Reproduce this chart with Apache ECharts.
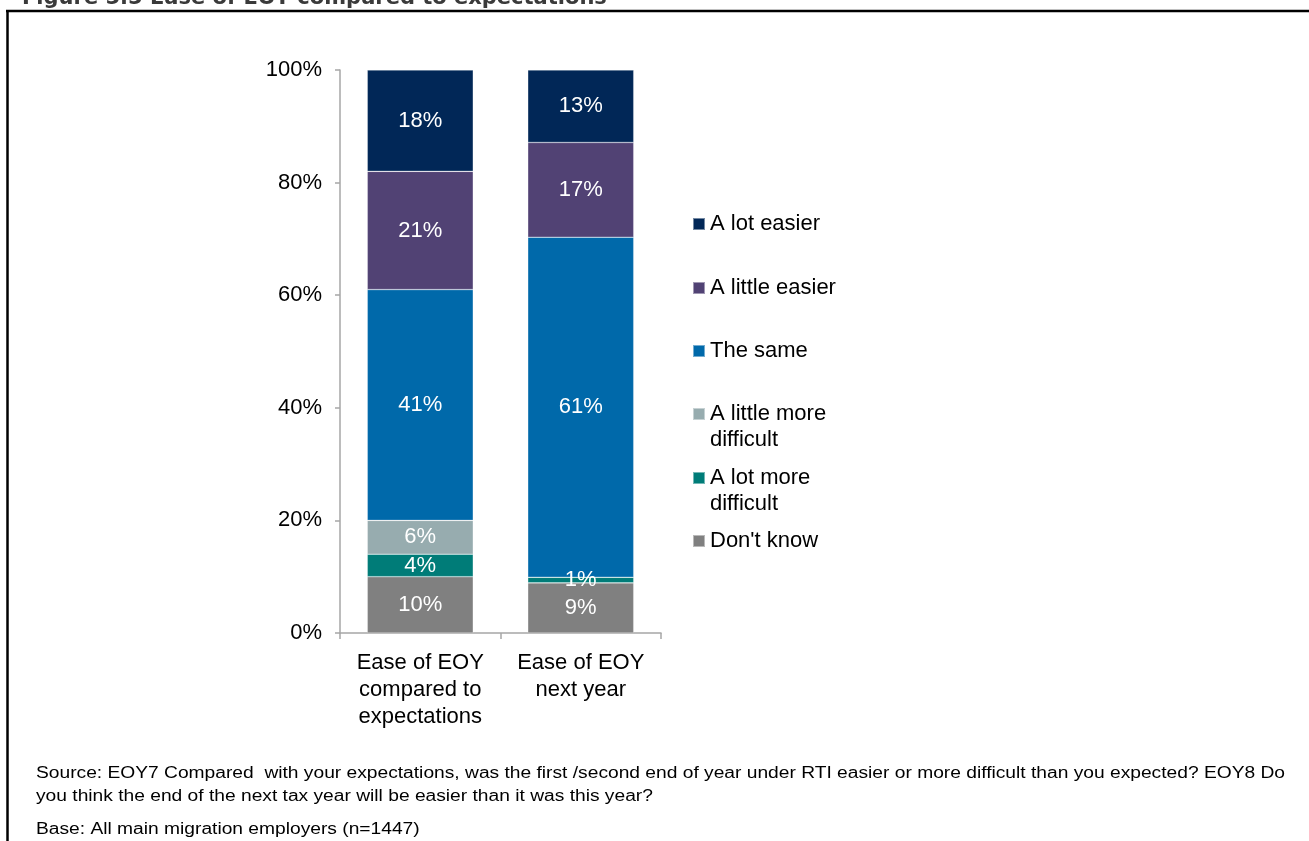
<!DOCTYPE html>
<html>
<head>
<meta charset="utf-8">
<title>Ease of EOY compared to expectations</title>
<script src="https://cdn.jsdelivr.net/npm/echarts@6/dist/echarts.min.js"></script>
<style>
  html, body { margin: 0; padding: 0; background: #ffffff; }
  #chart { width: 1309px; height: 841px; }
</style>
</head>
<body>
<div id="chart"></div>
<script>
// Survey categories (x axis)
const categories = ['Ease of EOY\ncompared to\nexpectations', 'Ease of EOY\nnext year'];

// Response shares in percent, one array per answer, per category
const dontKnow        = [10, 9];
const lotMoreDiff     = [4, 1];
const littleMoreDiff  = [6, 0];
const theSame         = [41, 61];
const littleEasier    = [21, 17];
const lotEasier       = [18, 13];

// Y axis tick labels
const yTicks = ['0%', '20%', '40%', '60%', '80%', '100%'];

const seriesDefs = [
  { name: "Don't know",              data: dontKnow,       color: '#808080' },
  { name: 'A lot more difficult',    data: lotMoreDiff,    color: '#007C78' },
  { name: 'A little more difficult', data: littleMoreDiff, color: '#97ACAF' },
  { name: 'The same',                data: theSame,        color: '#0069AA' },
  { name: 'A little easier',         data: littleEasier,   color: '#514274' },
  { name: 'A lot easier',            data: lotEasier,      color: '#012757' }
];

// 100% stacked: each bar is drawn as its share of the category total
const totals = categories.map((_, i) => seriesDefs.reduce((s, d) => s + d.data[i], 0));

const FONT = 'Liberation Sans, Arial, sans-serif';

const series = seriesDefs.map(d => ({
  name: d.name,
  type: 'bar',
  stack: 'all',
  barWidth: 106,
  itemStyle: { color: d.color, borderColor: 'rgba(255,255,255,0.45)', borderWidth: 0.6 },
  data: d.data.map((v, i) => ({ value: v / totals[i] * 100, raw: v })),
  label: {
    show: true,
    position: 'inside',
    color: '#ffffff',
    fontFamily: FONT,
    fontSize: 22,
    formatter: p => (p.data.raw > 0 ? p.data.raw + '%' : '')
  }
}));

// Legend entries, listed top to bottom on the right; the icon sits on the first text line
const legendRows = [
  { name: 'A lot easier',            lines: ['A lot easier'],             center: 224 },
  { name: 'A little easier',         lines: ['A little easier'],          center: 288 },
  { name: 'The same',                lines: ['The same'],                 center: 351 },
  { name: 'A little more difficult', lines: ['A little more', 'difficult'], center: 414 },
  { name: 'A lot more difficult',    lines: ['A lot more', 'difficult'],  center: 478 },
  { name: "Don't know",              lines: ["Don't know"],               center: 541 }
];
const LH = 26;
const legends = legendRows.map(r => {
  const multi = r.lines.length > 1;
  // a blank line above keeps the first line level with the icon
  const text = multi ? ' \n' + r.lines.join('\n') : r.lines[0];
  return {
    data: [r.name],
    orient: 'vertical',
    left: 692,
    top: multi ? r.center - LH * 1.5 : r.center - LH / 2,
    padding: 0,
    icon: 'rect',
    itemWidth: 12,
    itemHeight: 12,
    selectedMode: false,
    formatter: () => text,
    textStyle: {
      color: '#000000',
      fontFamily: FONT,
      fontSize: 22,
      lineHeight: LH
    }
  };
});

const NOTE_FONT = '16px "Liberation Sans", Arial, sans-serif';

const chart = echarts.init(document.getElementById('chart'), null, { renderer: 'canvas' });
chart.setOption({
  backgroundColor: '#ffffff',
  animation: false,
  textStyle: { fontFamily: FONT },
  grid: { left: 340, top: 70, width: 321, height: 563, containLabel: false },
  xAxis: {
    type: 'category',
    data: categories,
    axisLine: { show: true, lineStyle: { color: '#A6A6A6', width: 1.5 } },
    axisTick: { show: true, length: 6, lineStyle: { color: '#A6A6A6', width: 1.5 } },
    axisLabel: { interval: 0, color: '#000000', fontFamily: FONT, fontSize: 22, lineHeight: 27, margin: 16 }
  },
  yAxis: {
    type: 'value',
    min: 0,
    max: 100,
    interval: 20,
    axisLine: { show: true, lineStyle: { color: '#A6A6A6', width: 1.5 } },
    axisTick: { show: true, length: 5, lineStyle: { color: '#A6A6A6', width: 1.5 } },
    splitLine: { show: false },
    axisLabel: {
      color: '#000000',
      fontFamily: FONT,
      fontSize: 22,
      margin: 18,
      padding: [6, 0, 0, 0],
      formatter: v => yTicks[Math.round(v / 20)]
    }
  },
  legend: legends,
  series: series,
  graphic: [
    // figure caption running off the top edge
    {
      type: 'text', x: 22, y: -12,
      style: {
        text: 'Figure 5.5 Ease of EOY compared to expectations',
        font: 'bold 21px "DejaVu Sans", Verdana, sans-serif',
        fill: '#3a3a3a'
      }
    },
    // frame
    { type: 'line', shape: { x1: 6, y1: 11, x2: 1309, y2: 11 }, style: { stroke: '#000', lineWidth: 2.5 } },
    { type: 'line', shape: { x1: 7.5, y1: 10, x2: 7.5, y2: 841 }, style: { stroke: '#000', lineWidth: 2.5 } },
    // notes
    {
      type: 'text', x: 36, y: 766, scaleX: 1.2,
      style: {
        text: 'Source: EOY7 Compared  with your expectations, was the first /second end of year under RTI easier or more difficult than you expected? EOY8 Do',
        font: NOTE_FONT, fill: '#000'
      }
    },
    {
      type: 'text', x: 36, y: 789, scaleX: 1.2,
      style: {
        text: 'you think the end of the next tax year will be easier than it was this year?',
        font: NOTE_FONT, fill: '#000'
      }
    },
    {
      type: 'text', x: 36, y: 822, scaleX: 1.2,
      style: {
        text: 'Base: All main migration employers (n=1447)',
        font: NOTE_FONT, fill: '#000'
      }
    }
  ]
});
</script>
</body>
</html>
